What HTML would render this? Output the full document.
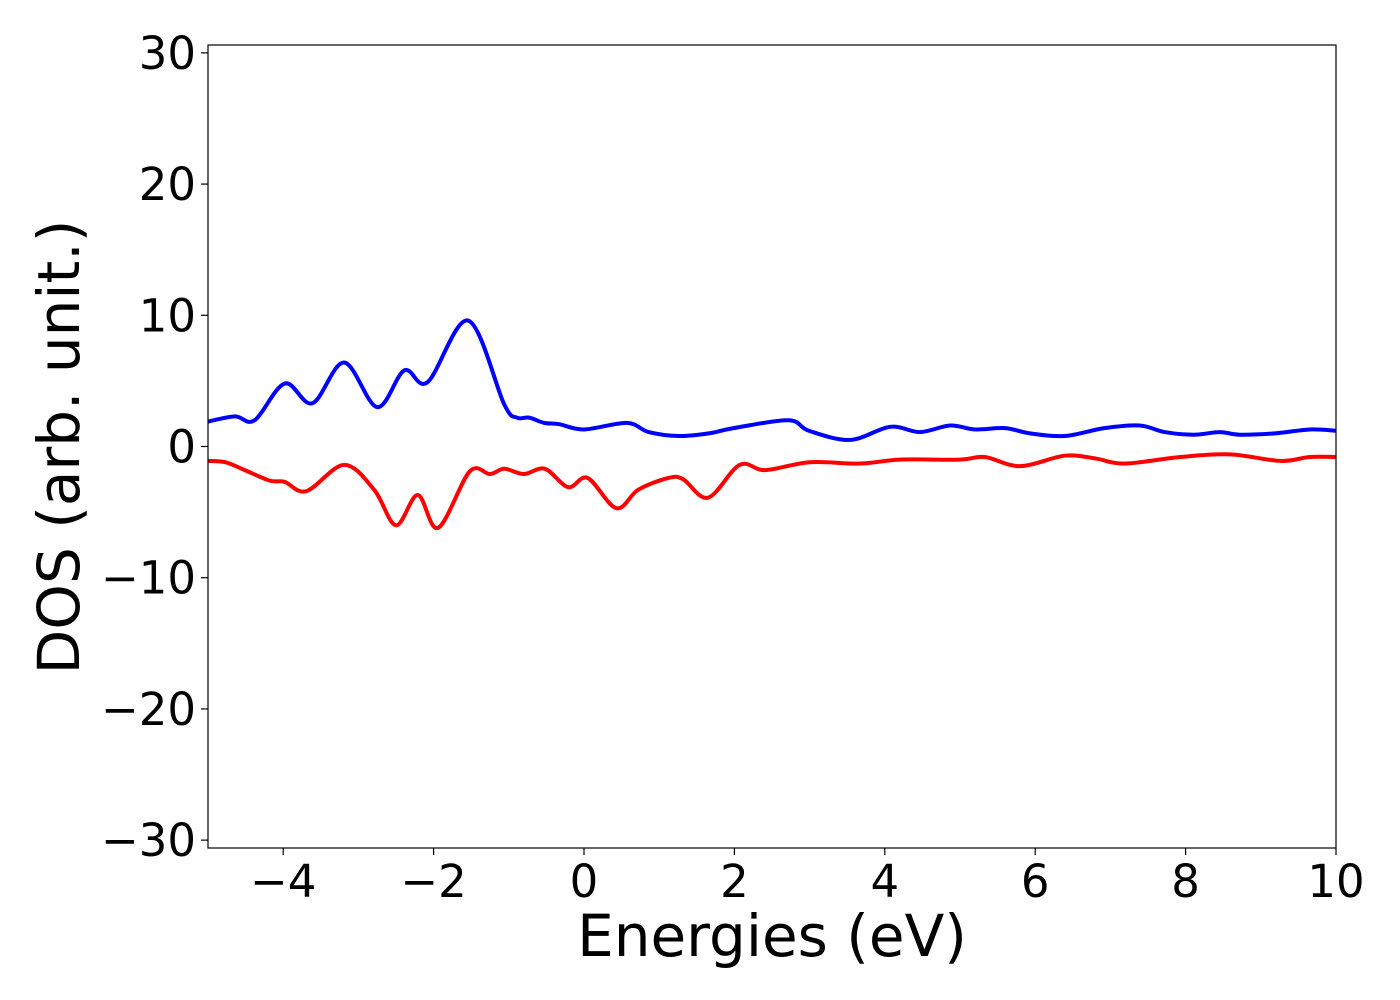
<!DOCTYPE html>
<html><head><meta charset="utf-8"><style>body{margin:0;background:#fff}svg{display:block}text{font-family:"DejaVu Sans","Liberation Sans",sans-serif}</style></head>
<body>
<svg id="chart" width="1400" height="1000" xmlns="http://www.w3.org/2000/svg"></svg>
<script>
const xTicks=[-4,-2,0,2,4,6,8,10];
const yTicks=[-30,-20,-10,0,10,20,30];
const upE=[-5,-4.64,-4.38,-3.98,-3.61,-3.19,-2.75,-2.39,-2.08,-1.54,-1.06,-0.89,-0.73,-0.53,-0.33,0,0.57,0.86,1.26,1.66,1.99,2.72,2.99,3.54,4.07,4.47,4.87,5.2,5.6,5.93,6.39,6.92,7.39,7.72,8.11,8.45,8.72,9.19,9.65,10];
const upD=[1.9,2.3,2.0,4.8,3.3,6.4,3.0,5.8,4.9,9.6,3.2,2.2,2.2,1.8,1.7,1.3,1.8,1.1,0.8,1.0,1.4,2.0,1.2,0.5,1.5,1.1,1.6,1.3,1.4,1.0,0.8,1.4,1.6,1.1,0.9,1.1,0.9,1.0,1.3,1.2];
const dnE=[-5,-4.77,-4.51,-4.18,-3.98,-3.69,-3.19,-2.79,-2.5,-2.21,-1.94,-1.52,-1.25,-1.06,-0.8,-0.52,-0.21,0.05,0.43,0.72,1.12,1.32,1.65,2.07,2.41,3.0,3.67,4.2,5.0,5.33,5.8,6.39,6.79,7.19,7.93,8.59,9.26,9.65,10];
const dnD=[-1.1,-1.2,-1.8,-2.6,-2.7,-3.4,-1.4,-3.3,-6.0,-3.7,-6.2,-1.9,-2.1,-1.7,-2.1,-1.7,-3.1,-2.4,-4.7,-3.3,-2.4,-2.5,-3.9,-1.4,-1.8,-1.2,-1.3,-1.0,-1.0,-0.8,-1.5,-0.7,-0.9,-1.3,-0.8,-0.6,-1.1,-0.8,-0.8];
const L=208,R=1336,T=45,B=848,xmin=-5,xmax=10,ymin=-30.6,ymax=30.6;
const sx=v=>L+(v-xmin)/(xmax-xmin)*(R-L);
const sy=v=>B-(v-ymin)/(ymax-ymin)*(B-T);
const svg=document.getElementById('chart');const NS='http://www.w3.org/2000/svg';
function mk(t,a,txt){const e=document.createElementNS(NS,t);for(const k in a)e.setAttribute(k,a[k]);if(txt!==undefined)e.textContent=txt;svg.appendChild(e);return e;}
function path(xs,ys){const p=xs.map((x,i)=>[sx(x),sy(ys[i])]);let d='M'+p[0][0]+','+p[0][1];
for(let i=0;i<p.length-1;i++){const p0=p[Math.max(i-1,0)],p1=p[i],p2=p[i+1],p3=p[Math.min(i+2,p.length-1)];
d+=' C'+(p1[0]+(p2[0]-p0[0])/6)+','+(p1[1]+(p2[1]-p0[1])/6)+' '+(p2[0]-(p3[0]-p1[0])/6)+','+(p2[1]-(p3[1]-p1[1])/6)+' '+p2[0]+','+p2[1];}return d;}
const cp=mk('clipPath',{id:'clip'});const cr=document.createElementNS(NS,'rect');cr.setAttribute('x',L);cr.setAttribute('y',T);cr.setAttribute('width',R-L);cr.setAttribute('height',B-T);cp.appendChild(cr);
let e=mk('path',{d:path(upE,upD),fill:'none',stroke:'#0000ff','stroke-width':4,'clip-path':'url(#clip)'});


e=mk('path',{d:path(dnE,dnD),fill:'none',stroke:'#ff0000','stroke-width':4,'clip-path':'url(#clip)'});


e=mk('rect',{x:L,y:T,width:R-L,height:B-T,fill:'none',stroke:'#000','stroke-width':1.2});


const fmt=v=>v<0?'\u2212'+(-v):''+v;
xTicks.forEach(v=>{const x=sx(v);mk('line',{x1:x,x2:x,y1:B,y2:B+7,stroke:'#000','stroke-width':1.2});
const t=mk('text',{x:x,y:B+49,'font-size':45,'text-anchor':'middle'},fmt(v));

});
yTicks.forEach(v=>{const y=sy(v);mk('line',{x1:L,x2:L-7,y1:y,y2:y,stroke:'#000','stroke-width':1.2});
const t=mk('text',{x:L-12,y:y+16,'font-size':45,'text-anchor':'end'},fmt(v));

});
e=mk('text',{x:772,y:956,'font-size':58,'text-anchor':'middle'},'Energies (eV)');


e=mk('text',{x:79,y:447,'font-size':58,'text-anchor':'middle',transform:'rotate(-90 79 447)'},'DOS (arb. unit.)');


</script>
</body></html>
